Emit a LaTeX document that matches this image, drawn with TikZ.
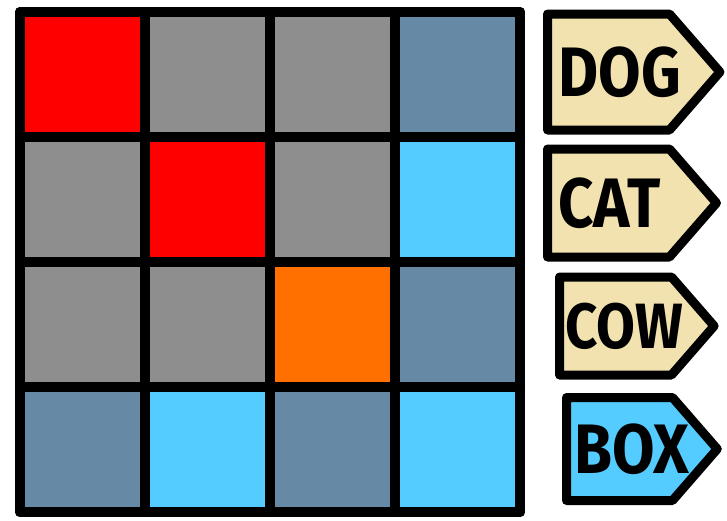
\documentclass[tikz,border=0pt]{standalone}
\usepackage{fontspec}
\setmainfont{Fira Sans}
\newfontfamily\tagfont[FakeStretch=0.88]{Fira Sans}
\usetikzlibrary{shapes.symbols, positioning}
\definecolor{cellred}{HTML}{FF0000}
\definecolor{cellgray}{HTML}{8E8E8E}
\definecolor{cellslate}{HTML}{6689A6}
\definecolor{cellsky}{HTML}{55CCFF}
\definecolor{cellorange}{HTML}{FF7000}
\definecolor{tagbeige}{HTML}{F2E2B0}
\tikzset{
  cell/.style={rectangle, minimum size=125pt, inner sep=0pt, outer sep=0pt},
  tag/.style={signal, signal to=east, signal pointer angle=98, draw=black,
              line width=9pt, line join=round, fill=tagbeige,
              inner xsep=11pt, inner ysep=0pt, anchor=west, align=left,
              font=\tagfont\fontsize{70}{70}\selectfont\bfseries, text=black},
  gridline/.style={draw=black, line width=10pt, line cap=round},
}

\begin{document}
\begin{tikzpicture}[x=1pt, y=-1pt]
  \useasboundingbox (0,0) rectangle (727,520);

  % colour cells, row by row
  \foreach \row [count=\r] in {{cellred,cellgray,cellgray,cellslate},
                               {cellgray,cellred,cellgray,cellsky},
                               {cellgray,cellgray,cellorange,cellslate},
                               {cellslate,cellsky,cellslate,cellsky}}
    \foreach \col [count=\c] in \row
      \node[cell, fill=\col] (c\r\c) at ({20+125*(\c-0.5)}, {12+125*(\r-0.5)}) {};

  % grid lines
  \foreach \c in {1,...,4}
    \draw[gridline] (c1\c.north west) -- (c4\c.south west);
  \draw[gridline] (c14.north east) -- (c44.south east);
  \foreach \r in {1,...,4}
    \draw[gridline] (c\r1.north west) -- (c\r4.north east);
  \draw[gridline] (c41.south west) -- (c44.south east);

  % labels
  \node[tag, text width=100pt, minimum height=116pt] (dog) at (543,72) {DOG};
  \node[tag, text width=100pt, minimum height=108pt] (cat) at (543,203) {CAT};
  \node[tag, inner xsep=6pt, text width=100pt, minimum height=98pt,
        font=\tagfont\fontsize{64}{64}\selectfont\bfseries] (cow) at (555,326) {COW};
  \node[tag, fill=cellsky, inner xsep=8pt, text width=90pt, minimum height=103pt] (box) at (562,449) {BOX};
\end{tikzpicture}
\end{document}
